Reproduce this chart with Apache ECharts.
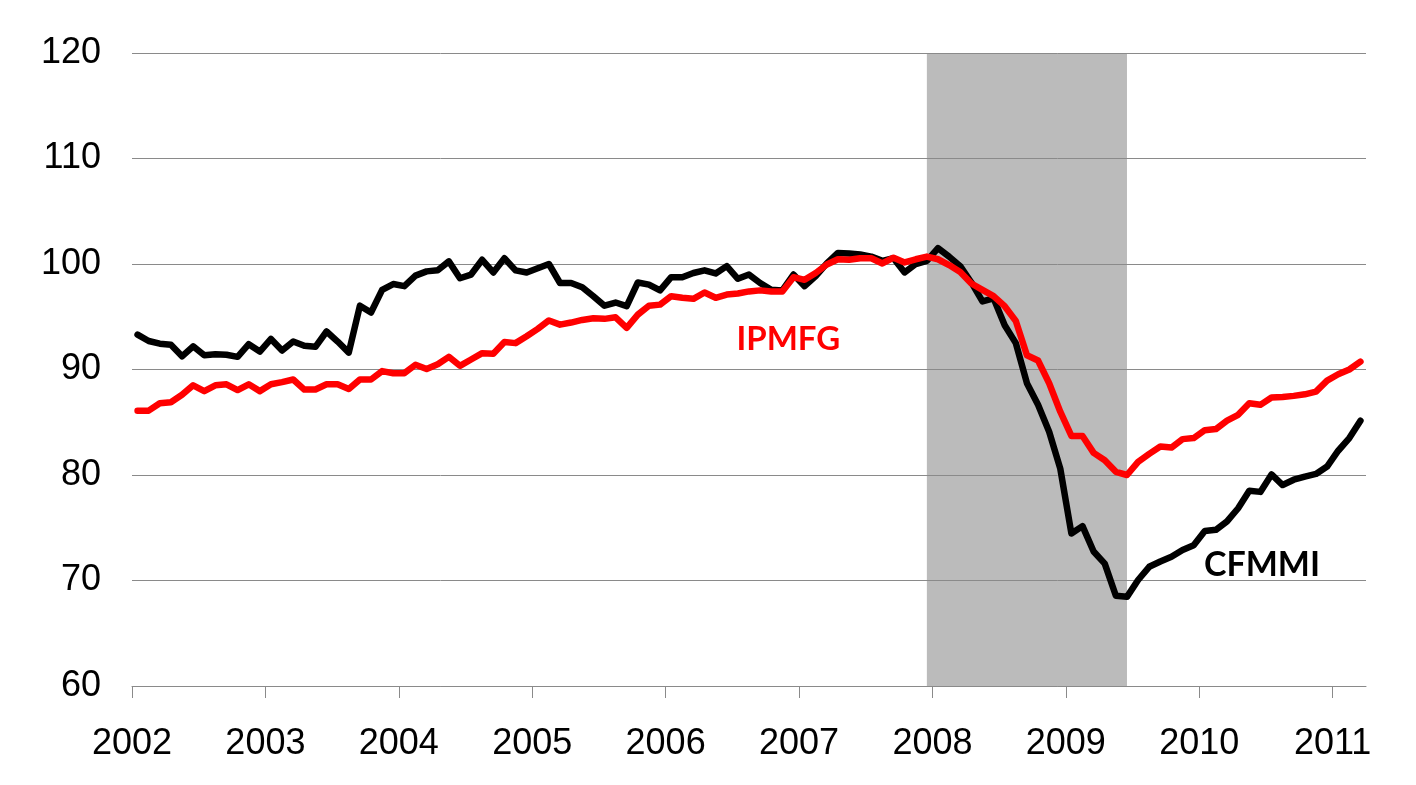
<!DOCTYPE html>
<html><head><meta charset="utf-8">
<script src="https://cdn.jsdelivr.net/npm/echarts@6/dist/echarts.min.js"></script>
<style>html,body{margin:0;padding:0;background:#fff}#c{width:1416px;height:785px}</style>
</head><body><div id="c"></div>
<script>
// Monthly data, starting January 2002
const startYear = 2002;
const cfmmi = [
  93.3, 92.7, 92.45, 92.35, 91.25, 92.2, 91.35, 91.45, 91.4, 91.2, 92.4, 91.7,
  92.9, 91.8, 92.65, 92.25, 92.15, 93.6, 92.65, 91.6, 96.05, 95.4, 97.55, 98.1,
  97.9, 98.9, 99.3, 99.4, 100.25, 98.65, 99.0, 100.4, 99.2, 100.55, 99.4, 99.2,
  99.6, 100.0, 98.2, 98.2, 97.8, 96.95, 96.05, 96.35, 96.0, 98.25, 98.05, 97.5,
  98.75, 98.75, 99.15, 99.4, 99.1, 99.8, 98.6, 99.0, 98.2, 97.55, 97.5, 99.0,
  97.9, 98.85, 100.05, 101.05, 101.0, 100.9, 100.7, 100.3, 100.55, 99.2, 100.0, 100.3,
  101.5, 100.7, 99.8, 98.25, 96.45, 96.75, 94.2, 92.5, 88.7, 86.65, 84.1, 80.6,
  74.45, 75.15, 72.75, 71.6, 68.55, 68.45, 70.05, 71.3, 71.8, 72.25, 72.9, 73.35,
  74.7, 74.8, 75.6, 76.85, 78.5, 78.4, 80.05, 79.05, 79.55, 79.85, 80.1, 80.8,
  82.3, 83.5, 85.15
];
const ipmfg = [
  86.1, 86.1, 86.8, 86.9, 87.6, 88.5, 87.95, 88.5, 88.6, 88.05, 88.6, 87.95,
  88.6, 88.8, 89.05, 88.1, 88.1, 88.6, 88.6, 88.15, 89.05, 89.05, 89.85, 89.65,
  89.65, 90.45, 90.05, 90.5, 91.2, 90.35, 90.95, 91.55, 91.5, 92.6, 92.5, 93.15,
  93.85, 94.65, 94.25, 94.45, 94.7, 94.85, 94.8, 94.95, 93.95, 95.2, 96.05, 96.15,
  96.95, 96.8, 96.7, 97.3, 96.8, 97.1, 97.2, 97.4, 97.5, 97.4, 97.4, 98.75,
  98.5, 99.15, 99.95, 100.45, 100.4, 100.55, 100.55, 100.05, 100.6, 100.15, 100.45, 100.7,
  100.45, 99.9, 99.25, 98.15, 97.55, 96.95, 96.0, 94.6, 91.35, 90.85, 88.7, 86.0,
  83.7, 83.7, 82.1, 81.4, 80.3, 80.0, 81.25, 82.0, 82.7, 82.6, 83.4, 83.5,
  84.25, 84.35, 85.15, 85.7, 86.8, 86.65, 87.35, 87.4, 87.5, 87.65, 87.9, 88.95,
  89.55, 90.0, 90.75
];
const yearTicks = [2002, 2003, 2004, 2005, 2006, 2007, 2008, 2009, 2010, 2011];
const recession = ['2007-12', '2009-06'];
const seriesNames = ['CFMMI', 'IPMFG'];

function toX(i) { return startYear + (i + 0.5) / 12; }
function monthToX(s) { const p = s.split('-'); return +p[0] + (+p[1] - 0.5) / 12; }

const gridColor = '#8a8a8a';
const axisFont = '"Liberation Sans", Arial, sans-serif';

const chart = echarts.init(document.getElementById('c'));
chart.setOption({
  animation: false,
  backgroundColor: '#fff',
  grid: { left: 132, right: 50, top: 53, bottom: 99 },
  xAxis: {
    type: 'value', min: 2002, max: 2011.25, interval: 1, z: 3,
    axisLine: { show: true, lineStyle: { color: gridColor, width: 1 } },
    axisTick: { show: true, length: 12, customValues: yearTicks, lineStyle: { color: gridColor } },
    axisLabel: { customValues: yearTicks, formatter: v => String(v), fontFamily: axisFont, fontSize: 36, color: '#000', margin: 40 },
    splitLine: { show: false }
  },
  yAxis: {
    type: 'value', min: 60, max: 120, interval: 10, z: 3,
    axisLine: { show: false }, axisTick: { show: false },
    axisLabel: { fontFamily: axisFont, fontSize: 36, color: '#000', margin: 31 },
    splitLine: { show: true, lineStyle: { color: gridColor, width: 1 } }
  },
  series: [
    {
      type: 'line', data: [], z: 1, silent: true,
      markArea: {
        silent: true, itemStyle: { color: '#bbbbbb' },
        data: [[{ xAxis: monthToX(recession[0]) }, { xAxis: monthToX(recession[1]) }]]
      }
    },
    {
      name: seriesNames[0], type: 'line', z: 5, symbol: 'none', showSymbol: false,
      lineStyle: { color: '#000', width: 6.5, join: 'round', cap: 'round' },
      data: cfmmi.map((v, i) => [toX(i), v]),
      markPoint: {
        symbol: 'circle', symbolSize: 0, silent: true,
        label: { show: true, position: 'inside', formatter: seriesNames[0], fontFamily: 'Lato, sans-serif', fontWeight: 'bold', fontSize: 34, color: '#000' },
        data: [{ coord: [2010.47, 71.5] }]
      }
    },
    {
      name: seriesNames[1], type: 'line', z: 6, symbol: 'none', showSymbol: false,
      lineStyle: { color: '#ff0000', width: 6.5, join: 'round', cap: 'round' },
      data: ipmfg.map((v, i) => [toX(i), v]),
      markPoint: {
        symbol: 'circle', symbolSize: 0, silent: true,
        label: { show: true, position: 'inside', formatter: seriesNames[1], fontFamily: 'Lato, sans-serif', fontWeight: 'bold', fontSize: 33, color: '#ff0000' },
        data: [{ coord: [2006.92, 92.85] }]
      }
    }
  ]
});
</script></body></html>
